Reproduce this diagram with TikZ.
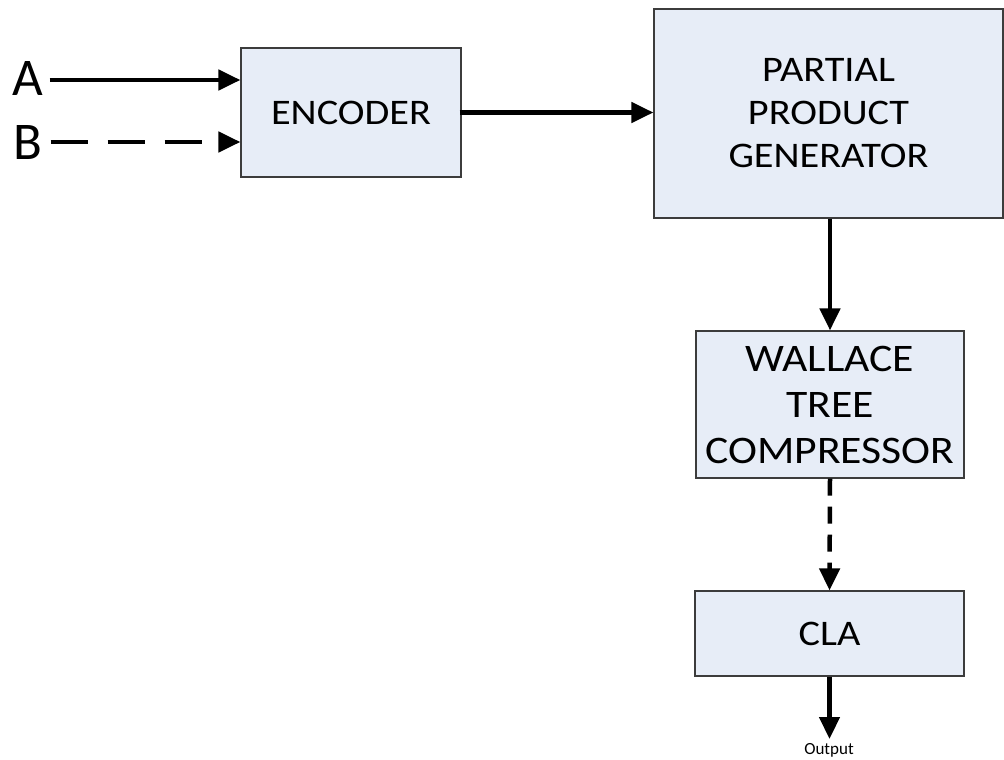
\documentclass[tikz,border=0pt]{standalone}
\usepackage{fontspec}
\setmainfont{Carlito}
\newfontfamily\blockfont{Carlito}[FakeStretch=1.12]
\usetikzlibrary{arrows.meta}
\definecolor{blockfill}{RGB}{231,237,247}
\definecolor{blockline}{RGB}{60,60,60}
\begin{document}
\begin{tikzpicture}[x=1pt,y=-1pt,
  block/.style={draw=blockline,line width=1.2pt,fill=blockfill,inner sep=0pt,
    align=center,font=\blockfont\fontsize{36}{43}\selectfont},
  bigblock/.style={block,font=\blockfont\fontsize{39}{46}\selectfont},
  sig/.style={line width=4.5pt,-{Triangle[length=22pt,width=20pt]}},
  sigdash/.style={sig,dash pattern=on 37pt off 20pt},
  vdash/.style={sig,dash pattern=on 17pt off 11pt},
  inlabel/.style={font=\fontsize{53}{56}\selectfont,inner sep=0pt}]
  \useasboundingbox (0,0) rectangle (1004,760);

  % processing blocks
  \node[block,minimum width=220pt,minimum height=129pt] (enc) at (351,112.5) {ENCODER};
  \node[block,minimum width=349pt,minimum height=209pt] (ppg) at (828.5,113.5) {PARTIAL\\PRODUCT\\GENERATOR};
  \node[bigblock,minimum width=268pt,minimum height=147pt] (wal) at (830,404.5) {WALLACE\\TREE\\COMPRESSOR};
  \node[block,minimum width=269pt,minimum height=85pt] (cla) at (829.5,633.5) {CLA};

  % inputs and output
  \node[inlabel] (A) at (28,78) {A};
  \node[inlabel] (B) at (28,142) {B};
  \node[font=\fontsize{17}{20}\selectfont,inner sep=0pt] (out) at (829,750) {Output};
  \coordinate (outtip) at (829.5,739);

  % connectors
  \draw[sig] ([xshift=6pt]A.east |- 0,80) -- (enc.west |- 0,80);
  \draw[sigdash] ([xshift=8pt]B.east) -- (B -| enc.west);
  \draw[sig] ([xshift=-2pt]enc.east) -- (enc.east -| ppg.west);
  \draw[sig] (ppg.south -| wal.north) -- (wal.north);
  \draw[vdash] (wal.south) -- (cla.north);
  \draw[sig] (cla.south) -- (outtip);
\end{tikzpicture}
\end{document}
